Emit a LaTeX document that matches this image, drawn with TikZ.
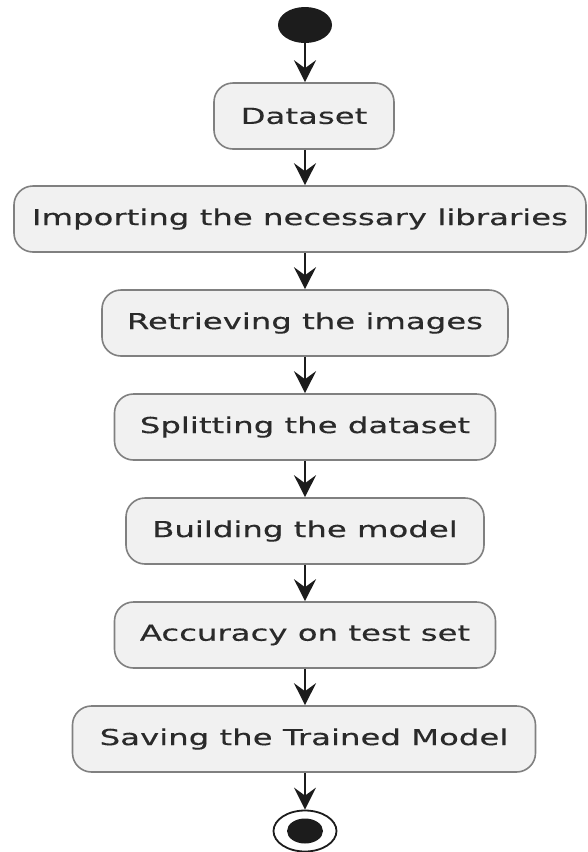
\documentclass[tikz,border=0pt]{standalone}
\usepackage{fontspec}
\setmainfont[FakeStretch=1.47,FakeBold=0.3]{DejaVu Sans}
\usetikzlibrary{arrows.meta,shapes.geometric}
\definecolor{boxfill}{HTML}{F1F1F1}
\definecolor{boxline}{HTML}{808080}
\definecolor{inkdark}{HTML}{1C1C1C}
\definecolor{txt}{HTML}{2A2A2A}
\tikzset{
  act/.style={draw=boxline, line width=1.6pt, fill=boxfill, rounded corners=19pt,
    minimum height=66pt, inner sep=0pt, text=txt,
    font=\fontsize{22}{25}\selectfont},
  flow/.style={draw=inkdark, line width=1.8pt,
    -{Stealth[length=22pt, width=22pt, inset=8pt]}},
  startdot/.style={ellipse, fill=inkdark, draw=none, minimum width=54pt, minimum height=36pt, inner sep=0pt},
  endring/.style={ellipse, draw=inkdark, line width=1.8pt, fill=white, minimum width=63pt, minimum height=41pt, inner sep=0pt},
  enddot/.style={ellipse, fill=inkdark, draw=none, minimum width=36pt, minimum height=25pt, inner sep=0pt}
}
\begin{document}
\begin{tikzpicture}[x=1pt,y=-1pt]
\useasboundingbox[fill=white] (0,0) rectangle (587,852);
\node[startdot] (start) at (305,25) {};
\node[act, minimum width=180pt] (dataset) at (304,116) {Dataset};
\node[act, minimum width=572pt] (importing) at (300,219) {Importing the necessary libraries};
\node[act, minimum width=406pt] (retrieving) at (305,323) {Retrieving the images};
\node[act, minimum width=381pt] (splitting) at (305,427) {Splitting the dataset};
\node[act, minimum width=358pt] (building) at (305,531) {Building the model};
\node[act, minimum width=381pt] (accuracy) at (305,635) {Accuracy on test set};
\node[act, minimum width=463pt] (saving) at (304,739) {Saving the Trained Model};
\node[endring] (endr) at (305,831) {};
\node[enddot] (endd) at (305,831) {};
\draw[flow] (start.south) -- (start.south |- dataset.north);
\draw[flow] (start.south |- dataset.south) -- (start.south |- importing.north);
\draw[flow] (retrieving.north |- importing.south) -- (retrieving.north);
\draw[flow] (retrieving.south) -- (splitting.north);
\draw[flow] (splitting.south) -- (building.north);
\draw[flow] (building.south) -- (accuracy.north);
\draw[flow] (accuracy.south) -- (accuracy.south |- saving.north);
\draw[flow] (endr.north |- saving.south) -- (endr.north);
\end{tikzpicture}
\end{document}
